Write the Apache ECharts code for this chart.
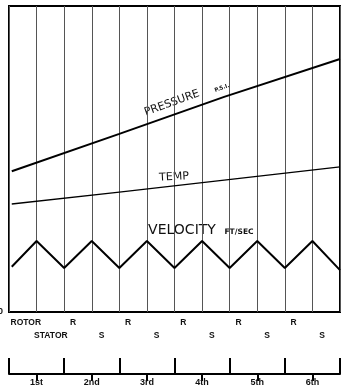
<!DOCTYPE html>
<html><head><meta charset="utf-8">
<script src="https://cdn.jsdelivr.net/npm/echarts@6/dist/echarts.min.js"></script>
<style>html,body{margin:0;padding:0;background:#fff}#c{width:345px;height:386px}</style>
</head><body><div id="c"></div>
<script>
// Half-stage cells (12) along the compressor
const cellCount = 12;
const stages = ['1st','2nd','3rd','4th','5th','6th'];
const rotorRow = ['ROTOR','','R','','R','','R','','R','','R',''];
const statorRow = ['','STATOR','','S','','S','','S','','S','','S'];

// Series: position along compressor (in half-stage cells) and relative value (0-100)
const pressureX = [0.1, 4, 7.8, 12];
const pressureVal = [46, 58.2, 70.3, 82.7];
const tempX = [0.1, 4, 7.8, 12];
const tempVal = [35.3, 39.2, 43.1, 47.4];
const velocityX = [0.1, 1, 2, 3, 4, 5, 6, 7, 8, 9, 10, 11, 12];
const velocityVal = [14.8, 23.2, 14.4, 23.2, 14.4, 23.2, 14.4, 23.2, 14.4, 23.2, 14.4, 23.2, 13.7];

const pair = (xs, ys) => xs.map((x, i) => [x, ys[i]]);
const hand = '"DejaVu Sans", sans-serif';
const lab = '"Liberation Sans", Arial, sans-serif';

const chart = echarts.init(document.getElementById('c'), null, {renderer: 'canvas'});
chart.setOption({
  animation: false,
  backgroundColor: '#fff',
  grid: {left: 9, right: 5, top: 6, bottom: 74, containLabel: false, outerBoundsMode: 'none',
         show: true, borderColor: '#000', borderWidth: 2, backgroundColor: 'transparent'},
  xAxis: [
    {type: 'value', min: 0, max: cellCount, interval: 1,
     axisLine: {show: false}, axisTick: {show: false}, axisLabel: {show: false},
     splitLine: {show: true, lineStyle: {color: '#555', width: 1}}},
    {type: 'category', data: rotorRow, position: 'bottom', boundaryGap: true,
     axisLine: {show: false}, axisTick: {show: false}, splitLine: {show: false},
     axisLabel: {interval: 0, margin: 6, fontFamily: lab, fontWeight: 'bold', fontSize: 8.5, color: '#111',
       formatter: v => v === 'ROTOR' ? '{a|ROTOR}' : (v ? '{b|' + v + '}' : ''),
       rich: {a: {padding: [0, 0, 0, 6], fontFamily: lab, fontWeight: 'bold', fontSize: 8.5, color: '#111'},
              b: {padding: [0, 10, 0, 0], fontFamily: lab, fontWeight: 'bold', fontSize: 8.5, color: '#111'}}}},
    {type: 'category', data: statorRow, position: 'bottom', boundaryGap: true,
     axisLine: {show: false}, axisTick: {show: false}, splitLine: {show: false},
     axisLabel: {interval: 0, margin: 19, fontFamily: lab, fontWeight: 'bold', fontSize: 8.5, color: '#111',
       formatter: v => v === 'STATOR' ? '{a|STATOR}' : (v ? '{b|' + v + '}' : ''),
       rich: {a: {padding: [0, 0, 0, 1], fontFamily: lab, fontWeight: 'bold', fontSize: 8.5, color: '#111'},
              b: {padding: [0, 8, 0, 0], fontFamily: lab, fontWeight: 'bold', fontSize: 8.5, color: '#111'}}}},
    {type: 'category', data: stages, position: 'bottom', offset: 62, boundaryGap: true,
     axisLine: {show: true, lineStyle: {color: '#000', width: 2}},
     axisTick: {show: true, inside: true, length: 16, lineStyle: {color: '#000', width: 2}},
     splitLine: {show: false},
     axisLabel: {interval: 0, margin: 4, fontFamily: lab, fontWeight: 'bold', fontSize: 9, color: '#111'}},
    {type: 'category', data: stages, position: 'bottom', offset: 62, boundaryGap: true,
     axisLine: {show: false},
     axisTick: {show: true, alignWithLabel: true, length: 7, lineStyle: {color: '#000', width: 2}},
     splitLine: {show: false}, axisLabel: {show: false}}
  ],
  yAxis: {type: 'value', min: 0, max: 100, interval: 100,
    axisLine: {show: false}, axisTick: {show: false}, splitLine: {show: false},
    axisLabel: {margin: 6, fontFamily: lab, fontWeight: 'bold', fontSize: 9, color: '#111',
      formatter: v => v === 0 ? '0' : ''}},
  series: [
    {name: 'PRESSURE', type: 'line', xAxisIndex: 0, data: pair(pressureX, pressureVal), symbol: 'none',
     lineStyle: {color: '#000', width: 2}},
    {name: 'TEMP', type: 'line', xAxisIndex: 0, data: pair(tempX, tempVal), symbol: 'none',
     lineStyle: {color: '#000', width: 1.3}},
    {name: 'VELOCITY', type: 'line', xAxisIndex: 0, data: pair(velocityX, velocityVal), symbol: 'none',
     lineStyle: {color: '#000', width: 2}}
  ],
  graphic: [
    {type: 'text', x: 172, y: 103, rotation: 20 * Math.PI / 180,
     style: {text: 'PRESSURE', font: '11px ' + hand, fill: '#111', align: 'center', verticalAlign: 'middle'}},
    {type: 'text', x: 222, y: 88, rotation: 20 * Math.PI / 180,
     style: {text: 'P.S.I.', font: 'bold 5.5px ' + hand, fill: '#111', align: 'center', verticalAlign: 'middle'}},
    {type: 'text', x: 174, y: 177, rotation: 3 * Math.PI / 180,
     style: {text: 'TEMP', font: '11px ' + hand, fill: '#111', align: 'center', verticalAlign: 'middle'}},
    {type: 'text', x: 182, y: 230,
     style: {text: 'VELOCITY', font: '14px ' + hand, fill: '#111', align: 'center', verticalAlign: 'middle'}},
    {type: 'text', x: 239, y: 232,
     style: {text: 'FT/SEC', font: 'bold 7.5px ' + hand, fill: '#111', align: 'center', verticalAlign: 'middle'}}
  ]
});
</script></body></html>
